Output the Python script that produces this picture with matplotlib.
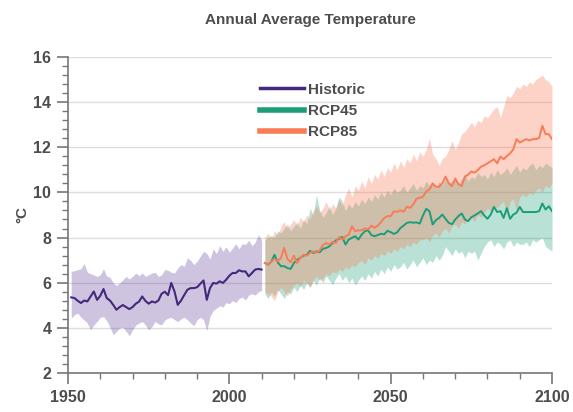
import matplotlib
matplotlib.use('Agg')
import matplotlib.pyplot as plt
import numpy as np
from matplotlib.ticker import MultipleLocator

plt.rcParams['font.family'] = ['Liberation Sans', 'DejaVu Sans']

# historic record, 1951-2010
hist_years = np.arange(1951, 2011)
hist_mean = [5.35, 5.32, 5.20, 5.10, 5.21, 5.17, 5.39, 5.61, 5.24, 5.42,
             5.72, 5.32, 5.21, 5.02, 4.80, 4.92, 5.01, 4.92, 4.83, 4.92,
             5.07, 5.16, 5.39, 5.19, 5.07, 5.17, 5.12, 5.21, 5.51, 5.60,
             5.45, 5.99, 5.61, 5.02, 5.20, 5.45, 5.69, 5.76, 5.76, 5.80,
             5.95, 6.10, 5.24, 5.76, 5.99, 5.96, 6.06, 5.99, 6.13, 6.31,
             6.43, 6.43, 6.55, 6.50, 6.50, 6.28, 6.43, 6.58, 6.61, 6.58]
hist_hi = [6.50, 6.53, 6.58, 6.62, 6.85, 6.46, 6.40, 6.34, 6.28, 6.35,
           6.62, 6.28, 6.25, 5.99, 5.87, 5.99, 6.13, 6.28, 6.16, 6.28,
           6.43, 6.31, 6.43, 6.28, 6.35, 6.43, 6.46, 6.28, 6.35, 6.58,
           6.55, 6.46, 6.43, 6.65, 6.80, 6.72, 7.10, 6.99, 6.80, 6.95,
           7.17, 7.39, 7.29, 7.05, 7.50, 7.29, 7.64, 7.39, 7.59, 7.35,
           7.54, 7.73, 7.50, 7.73, 7.69, 7.88, 7.64, 7.79, 8.13, 7.88]
hist_lo = [4.43, 4.58, 4.65, 4.47, 4.35, 4.21, 3.91, 4.13, 4.28, 4.47,
           4.50, 4.32, 4.03, 3.69, 3.84, 3.99, 4.03, 3.84, 3.65, 3.91,
           4.13, 4.21, 4.28, 4.13, 3.91, 4.06, 4.28, 4.18, 4.13, 4.35,
           4.43, 4.47, 4.36, 4.28, 4.39, 4.47, 4.36, 4.21, 4.09, 4.36,
           4.47, 4.36, 3.88, 4.50, 4.77, 4.87, 4.98, 4.92, 5.12, 5.07,
           5.21, 5.12, 5.30, 5.36, 5.24, 5.45, 5.51, 5.45, 5.60, 5.66]

# scenario projections, 2011-2100
proj_years = np.arange(2011, 2101)
rcp45_mean = [6.87, 6.80, 6.93, 7.24, 6.90, 6.73, 6.73, 6.65, 6.61, 6.87,
              7.02, 7.10, 7.20, 7.24, 7.41, 7.32, 7.39, 7.35, 7.50, 7.54,
              7.61, 7.76, 7.87, 7.94, 8.03, 7.69, 7.91, 7.99, 8.06, 7.91,
              8.13, 8.28, 8.32, 8.11, 8.06, 8.11, 8.17, 8.14, 8.30, 8.24,
              8.16, 8.23, 8.42, 8.53, 8.65, 8.68, 8.66, 8.67, 8.62, 8.98,
              9.27, 9.17, 8.58, 8.77, 8.87, 9.02, 8.83, 8.65, 8.59, 8.80,
              8.95, 9.07, 8.80, 8.73, 8.90, 8.98, 9.07, 9.17, 8.98, 8.83,
              9.02, 9.36, 9.13, 9.17, 8.87, 9.30, 8.83, 9.02, 9.10, 9.36,
              9.13, 9.13, 9.13, 9.13, 9.13, 9.17, 9.51, 9.24, 9.39, 9.17]
rcp45_hi = [7.9, 8.0, 8.1, 8.0, 8.3, 8.2, 8.4, 8.6, 8.3, 8.5,
            8.7, 8.4, 8.8, 8.6, 9.3, 9.0, 9.9, 9.2, 8.9, 9.1,
            9.4, 9.0, 9.3, 9.8, 9.6, 9.2, 9.5, 9.3, 9.6, 9.4,
            9.7, 9.5, 9.8, 9.6, 9.9, 9.7, 10.0, 9.8, 10.1, 9.9,
            10.2, 10.0, 10.1, 10.3, 10.0, 10.2, 10.4, 10.1, 10.3, 10.2,
            10.5, 10.3, 10.4, 10.2, 10.5, 10.3, 10.6, 10.4, 10.5, 10.7,
            10.4, 10.6, 10.8, 10.5, 10.7, 10.6, 10.9, 10.7, 10.8, 10.6,
            10.9, 10.7, 11.0, 10.8, 10.9, 11.1, 10.8, 11.0, 11.2, 10.9,
            11.1, 11.0, 11.2, 11.3, 11.0, 11.2, 11.1, 11.3, 11.2, 11.1]
rcp45_lo = [5.5, 5.3, 5.6, 5.4, 5.7, 5.5, 5.3, 5.6, 5.5, 5.8,
            5.6, 5.9, 5.7, 6.0, 5.8, 6.1, 5.9, 6.2, 6.0, 6.3,
            6.1, 5.9, 6.2, 6.4, 6.1, 6.3, 6.0, 6.2, 5.9, 6.1,
            6.3, 6.1, 6.4, 6.2, 6.5, 6.3, 6.6, 6.4, 6.7, 6.5,
            6.8, 6.6, 6.7, 6.9, 6.6, 6.8, 7.0, 6.7, 6.9, 7.1,
            6.8, 7.0, 6.9, 7.2, 7.0, 7.2, 7.6, 7.4, 7.2, 7.5,
            7.3, 7.4, 7.1, 7.4, 7.3, 7.4, 7.0, 7.3, 7.6, 7.8,
            7.9, 7.6, 7.8, 7.7, 7.5, 7.8, 7.9, 7.6, 7.8, 7.7,
            7.7, 7.8, 7.6, 7.9, 7.8, 7.9, 8.0, 7.6, 7.5, 7.4]

rcp85_mean = [6.87, 6.80, 6.93, 7.05, 6.95, 7.10, 7.54, 7.05, 6.90, 7.20,
              6.87, 7.10, 7.24, 7.20, 7.32, 7.39, 7.32, 7.43, 7.67, 7.76,
              7.69, 7.82, 7.76, 8.03, 7.91, 8.06, 8.13, 8.50, 8.28, 8.32,
              8.32, 8.41, 8.36, 8.53, 8.43, 8.53, 8.68, 8.87, 8.95, 8.95,
              9.16, 9.14, 9.21, 9.14, 9.36, 9.32, 9.47, 9.72, 9.76, 9.81,
              10.04, 10.13, 10.40, 10.25, 10.25, 10.40, 10.70, 10.40, 10.28, 10.61,
              10.36, 10.28, 10.70, 10.79, 10.93, 10.87, 10.99, 11.14, 11.20, 11.29,
              11.38, 11.47, 11.29, 11.59, 11.47, 11.61, 11.73, 11.91, 12.36, 12.21,
              12.28, 12.36, 12.30, 12.36, 12.36, 12.41, 12.95, 12.58, 12.58, 12.36]
rcp85_hi = [8.0, 8.2, 7.9, 8.3, 8.1, 8.5, 8.7, 8.4, 8.6, 8.8,
            8.5, 8.9, 8.7, 9.0, 8.8, 9.2, 9.4, 9.1, 9.3, 9.6,
            9.2, 9.5, 9.3, 9.7, 9.4, 9.9, 10.2, 9.8, 10.3, 10.1,
            10.5, 10.2, 10.7, 10.4, 10.8, 10.6, 11.0, 10.7, 11.1, 10.9,
            11.3, 11.0, 11.4, 11.1, 11.5, 11.3, 11.7, 11.4, 11.8, 11.6,
            11.9, 12.4, 11.7, 11.5, 11.2, 11.5, 11.6, 11.9, 12.3, 11.9,
            12.2, 12.6, 12.7, 12.9, 13.1, 12.9, 13.2, 13.1, 13.4, 13.3,
            13.5, 13.7, 13.8, 13.3, 13.8, 14.3, 14.2, 14.4, 14.7, 14.6,
            14.8, 14.7, 14.9, 14.8, 15.0, 15.1, 15.2, 15.0, 14.9, 14.7]
rcp85_lo = [5.6, 5.5, 5.4, 5.2, 5.6, 5.8, 5.6, 5.4, 5.7, 5.9,
            6.0, 5.8, 6.1, 6.0, 5.8, 6.1, 6.3, 6.1, 6.2, 6.4,
            6.3, 6.5, 6.4, 6.6, 6.5, 6.7, 6.6, 6.8, 6.7, 6.9,
            7.0, 6.8, 7.1, 7.0, 7.2, 7.1, 7.3, 7.2, 7.4, 7.3,
            7.5, 7.4, 7.6, 7.5, 7.7, 7.6, 7.8, 7.7, 7.9, 7.9,
            8.0, 7.8, 8.1, 8.2, 8.0, 8.3, 8.4, 8.2, 8.5, 8.6,
            8.4, 8.7, 8.6, 8.8, 8.9, 8.7, 9.0, 8.9, 9.1, 9.3,
            9.2, 9.4, 9.3, 9.5, 9.6, 9.0, 9.6, 9.7, 9.2, 9.8,
            9.9, 9.8, 10.0, 9.9, 10.1, 10.2, 10.0, 10.3, 10.2, 10.4]

purple = '#44287c'
teal = '#1b9e77'
salmon = '#f97b57'
text_grey = '#4d4d4d'
axis_grey = '#777777'

fig = plt.figure(figsize=(5.73, 4.12), dpi=100)
ax = fig.add_axes([0.1187, 0.0947, 0.8447, 0.767])

ax.fill_between(hist_years, hist_lo, hist_hi, color='#5e3c99', alpha=0.3, lw=0, zorder=2)
ax.fill_between(proj_years, rcp45_lo, rcp45_hi, color=teal, alpha=0.3, lw=0, zorder=2)
ax.fill_between(proj_years, rcp85_lo, rcp85_hi, color=salmon, alpha=0.33, lw=0, zorder=2)

ax.plot(hist_years, hist_mean, color=purple, lw=1.5, zorder=3, label='Historic')
ax.plot(proj_years, rcp45_mean, color=teal, lw=1.4, zorder=3, label='RCP45')
ax.plot(proj_years, rcp85_mean, color=salmon, lw=1.4, zorder=4, label='RCP85')

ax.set_xlim(1950, 2100)
ax.set_ylim(2, 16)
ax.xaxis.set_major_locator(MultipleLocator(50))
ax.xaxis.set_minor_locator(MultipleLocator(10))
ax.yaxis.set_major_locator(MultipleLocator(2))
ax.yaxis.set_minor_locator(MultipleLocator(0.4))

ax.grid(axis='y', which='major', color='#dddddd', lw=1, zorder=0)
ax.set_axisbelow(True)
for side in ['top', 'right']:
    ax.spines[side].set_visible(False)
for side in ['left', 'bottom']:
    ax.spines[side].set_color(axis_grey)
    ax.spines[side].set_linewidth(1.2)

ax.tick_params(which='major', length=8, width=1.2, color=axis_grey,
               labelcolor=text_grey, labelsize=11.5, pad=4)
ax.tick_params(which='minor', length=4, width=1, color=axis_grey)
for lbl in ax.get_xticklabels() + ax.get_yticklabels():
    lbl.set_fontweight('bold')

ax.set_ylabel('°C', fontsize=11, fontweight='bold', color=text_grey, labelpad=3)
ax.set_title('Annual Average Temperature', fontsize=11, fontweight='bold',
             color=text_grey, pad=24)

leg = ax.legend(loc='upper left', bbox_to_anchor=(0.38, 0.943), frameon=False,
                handlelength=2.9, handletextpad=0.3, labelspacing=0.48,
                borderpad=0, prop={'weight': 'bold', 'size': 11})
for txt in leg.get_texts():
    txt.set_color(text_grey)
for h, w in zip(leg.get_lines(), [2.5, 4, 4]):
    h.set_linewidth(w)

fig.savefig('out.png', dpi=100)
